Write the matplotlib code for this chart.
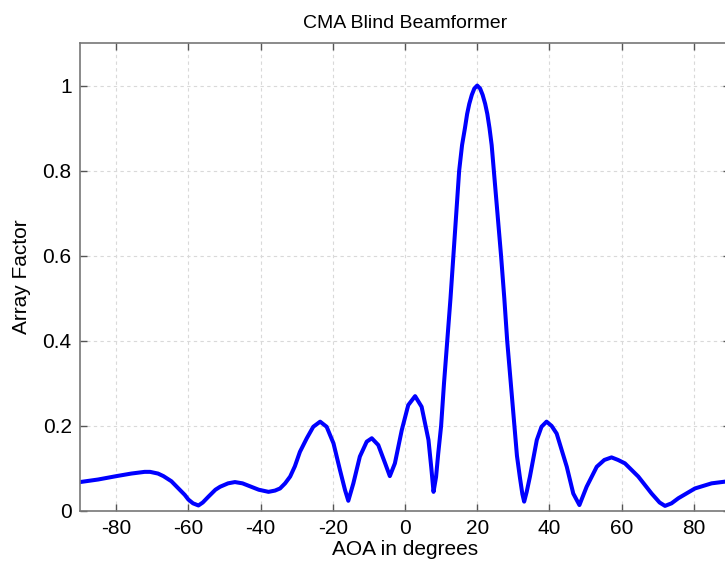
import matplotlib.pyplot as plt
import numpy as np

plt.rcParams['font.family'] = ['Liberation Sans', 'DejaVu Sans']
plt.rcParams['axes.unicode_minus'] = False

# Values (AOA in degrees, array factor)
aoa = [-90, -85.0, -79.9, -75.8, -72.1, -70.6, -68.4, -66.9, -64.7, -63.2,
       -61.0, -60.0, -58.7, -57.2, -56.0, -54.4, -52.5, -51.2, -49.0, -47.1,
       -45.0, -42.9, -40.5, -37.8, -36.0, -34.6, -33.2, -31.8, -30.5, -29.1,
       -27.2, -25.4, -23.5, -21.7, -19.8, -18.0, -16.6, -15.7, -14.3, -12.5,
       -10.6, -9.2, -7.4, -5.5, -4.2, -2.8, -0.9, 0.9, 2.8, 4.6,
       6.5, 7.3, 7.9, 8.6, 9.2, 10.0, 10.8, 11.7, 12.6, 13.4,
       14.2, 15.0, 15.8, 16.6, 17.2, 17.8, 18.5, 19.2, 20.0, 20.8,
       21.5, 22.2, 22.8, 23.4, 24.0, 24.6, 25.6, 26.6, 27.5, 28.3,
       29.3, 30.3, 31.0, 31.8, 32.5, 33.0, 33.7, 34.6, 36.5, 37.8,
       39.2, 40.6, 42.0, 44.8, 46.6, 48.3, 50.3, 53.1, 55.2, 57.2,
       59.0, 60.9, 64.6, 68.3, 70.5, 72.0, 73.8, 75.7, 80.3, 84.9,
       88.6, 90]
af = [0.068, 0.074, 0.082, 0.088, 0.092, 0.092, 0.088, 0.082, 0.070, 0.057,
      0.038, 0.027, 0.018, 0.013, 0.020, 0.034, 0.050, 0.057, 0.065, 0.068,
      0.065, 0.058, 0.050, 0.045, 0.048, 0.053, 0.065, 0.081, 0.105, 0.139,
      0.171, 0.198, 0.210, 0.198, 0.159, 0.096, 0.049, 0.024, 0.065, 0.128,
      0.163, 0.171, 0.155, 0.112, 0.082, 0.112, 0.190, 0.249, 0.270, 0.245,
      0.167, 0.100, 0.045, 0.080, 0.135, 0.200, 0.300, 0.400, 0.500, 0.600,
      0.700, 0.800, 0.860, 0.900, 0.933, 0.957, 0.978, 0.993, 1.000, 0.993,
      0.978, 0.957, 0.933, 0.900, 0.860, 0.800, 0.700, 0.600, 0.500, 0.400,
      0.300, 0.200, 0.130, 0.080, 0.040, 0.022, 0.045, 0.081, 0.167, 0.198,
      0.210, 0.200, 0.182, 0.104, 0.041, 0.014, 0.057, 0.104, 0.120, 0.126,
      0.120, 0.112, 0.081, 0.041, 0.020, 0.012, 0.018, 0.030, 0.053, 0.065,
      0.069, 0.069]

xticks = [-80, -60, -40, -20, 0, 20, 40, 60, 80]
yticks = [0, 0.2, 0.4, 0.6, 0.8, 1]
ytick_labels = ['0', '0.2', '0.4', '0.6', '0.8', '1']

fig = plt.figure(figsize=(7.25, 5.66), dpi=100)
ax = fig.add_axes([80 / 725, 55 / 566, 650 / 725, 468 / 566])

ax.plot(aoa, af, color='#0000ff', linewidth=2.9,
        solid_joinstyle='round', solid_capstyle='round')

ax.set_xlim(-90, 90)
ax.set_ylim(0, 1.1)
ax.set_xticks(xticks)
ax.set_yticks(yticks)
ax.set_yticklabels(ytick_labels)
ax.grid(True, linestyle=(0, (3, 3)), color='#d9d9d9', linewidth=0.8)
ax.tick_params(direction='in', top=True, right=True, length=5, width=1,
               color='#555555', labelsize=15, pad=6)
for s in ax.spines.values():
    s.set_color('#777777')
    s.set_linewidth(1.2)

ax.set_title('CMA Blind Beamformer', fontsize=14, pad=11)
ax.set_xlabel('AOA in degrees', fontsize=15, labelpad=1)
ax.set_ylabel('Array Factor', fontsize=15, labelpad=8)

fig.savefig('out.png', dpi=100)
